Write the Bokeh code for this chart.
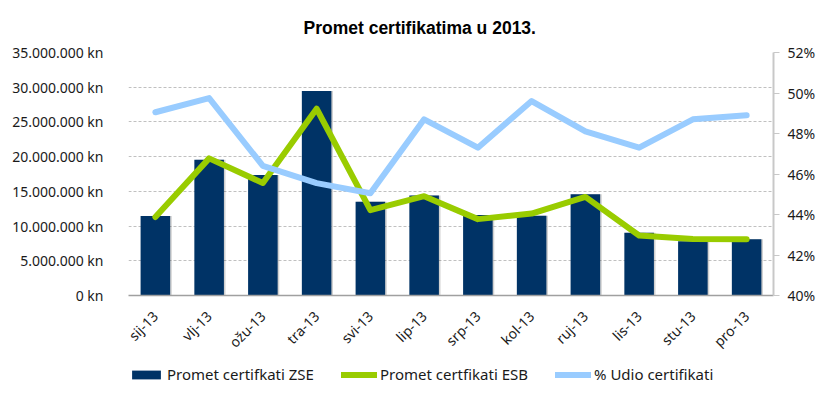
import math
from bokeh.plotting import figure
from bokeh.layouts import column
from bokeh.models import (FactorRange, Range1d, LinearAxis, FixedTicker,
                          NumeralTickFormatter, Legend, LegendItem, Title,
                          ColumnDataSource)
from bokeh.transform import dodge
from bokeh.embed import file_html
from bokeh.resources import INLINE

# ---- data ----
months = ["sij-13", "vlj-13", "ožu-13", "tra-13", "svi-13", "lip-13",
          "srp-13", "kol-13", "ruj-13", "lis-13", "stu-13", "pro-13"]
promet_zse = [11450000, 19550000, 17350000, 29450000, 13500000, 14400000,
              11600000, 11500000, 14600000, 9050000, 7800000, 8100000]
promet_esb = [11300000, 19750000, 16200000, 26900000, 12300000, 14300000,
              11000000, 11800000, 14200000, 8650000, 8150000, 8100000]
udio = [0.4905, 0.4975, 0.4640, 0.4555, 0.4505, 0.4870,
        0.4730, 0.4960, 0.4810, 0.4730, 0.4870, 0.4890]

left_ticks = [0, 5000000, 10000000, 15000000, 20000000, 25000000, 30000000, 35000000]
left_tick_labels = ["0 kn", "5.000.000 kn", "10.000.000 kn", "15.000.000 kn",
                    "20.000.000 kn", "25.000.000 kn", "30.000.000 kn", "35.000.000 kn"]
right_ticks = [0.40, 0.42, 0.44, 0.46, 0.48, 0.50, 0.52]

title_text = "Promet certifikatima  u 2013."
series_names = ["Promet certifkati ZSE", "Promet certfikati ESB", "% Udio certifikati"]

NAVY = "#003366"
GREEN = "#99CC00"
LBLUE = "#99CCFF"
GRID = "#C0C0C0"
FONT = "Noto Sans"
TXT = "#1a1a1a"

src = ColumnDataSource(dict(month=months, zse=promet_zse, esb=promet_esb, udio=udio))

p = figure(x_range=FactorRange(*months), y_range=Range1d(0, 35000000),
           width=818, height=361, output_backend="svg", toolbar_location=None,
           min_border_left=128, min_border_right=44, min_border_top=52,
           min_border_bottom=56)
p.outline_line_color = None
p.extra_y_ranges = {"pct": Range1d(0.40, 0.52)}

# subtle bar shadow
p.vbar(x=dodge("month", 0.03, range=p.x_range), top="zse", width=0.55, source=src,
       fill_color="#000000", fill_alpha=0.18, line_color=None)
bars = p.vbar(x="month", top="zse", width=0.55, source=src,
              fill_color=NAVY, line_color=None)
gline = p.line(x="month", y="esb", source=src, line_color=GREEN, line_width=6,
               line_join="round", line_cap="round")
bline = p.line(x="month", y="udio", source=src, y_range_name="pct",
               line_color=LBLUE, line_width=6, line_join="round", line_cap="round")

# left axis
ya = p.yaxis[0]
ya.ticker = FixedTicker(ticks=left_ticks)
ya.major_label_overrides = {int(t): l for t, l in zip(left_ticks, left_tick_labels)}
ya.axis_line_color = None
ya.major_tick_line_color = None
ya.minor_tick_line_color = None
ya.major_label_standoff = 19
ya.major_label_text_font = FONT
ya.major_label_text_font_size = "14px"
ya.major_label_text_color = TXT

# right axis
ra = LinearAxis(y_range_name="pct", ticker=FixedTicker(ticks=right_ticks),
                formatter=NumeralTickFormatter(format="0%"))
ra.axis_line_color = "#C8C8C8"
ra.axis_line_width = 2
ra.major_tick_line_color = "#C8C8C8"
ra.major_tick_out = 6
ra.major_tick_in = 0
ra.minor_tick_line_color = None
ra.major_label_standoff = 8
ra.major_label_text_font = FONT
ra.major_label_text_font_size = "14px"
ra.major_label_text_color = TXT
p.add_layout(ra, "right")

# x axis
xa = p.xaxis[0]
xa.axis_line_color = "#A0A0A0"
xa.axis_line_width = 1.5
xa.major_tick_line_color = None
xa.minor_tick_line_color = None
xa.major_label_orientation = math.pi / 4
xa.major_label_standoff = 12
xa.major_label_text_font = FONT
xa.major_label_text_font_size = "14px"
xa.major_label_text_color = TXT

# grid
p.xgrid.grid_line_color = None
p.ygrid.ticker = FixedTicker(ticks=left_ticks)
p.ygrid.grid_line_color = GRID
p.ygrid.grid_line_dash = "3 2"
p.ygrid.grid_line_width = 1

# title
p.title = Title(text=title_text, align="left", offset=175,
                text_font="Liberation Sans", text_font_size="17.5px",
                text_font_style="bold", text_color="#000000", standoff=29)

# legend strip below the chart (its frame is aligned with the chart frame)
lg = figure(width=818, height=24, output_backend="svg", toolbar_location=None,
            x_axis_type=None, y_axis_type=None, x_range=Range1d(0, 1),
            y_range=Range1d(0, 1), min_border=0)
lg.outline_line_color = None
lg.grid.visible = False
nan = float("nan")
sw_bar = lg.vbar(x=[nan], top=[nan], width=0.5, fill_color=NAVY, line_color=None)
sw_g = lg.line(x=[nan], y=[nan], line_color=GREEN, line_width=6, line_cap="round")
sw_b = lg.line(x=[nan], y=[nan], line_color=LBLUE, line_width=6, line_cap="round")
legend = Legend(items=[LegendItem(label=series_names[0], renderers=[sw_bar]),
                       LegendItem(label=series_names[1], renderers=[sw_g]),
                       LegendItem(label=series_names[2], renderers=[sw_b])],
                orientation="horizontal", location=(0, 1),
                glyph_width=36, glyph_height=11, label_standoff=3, spacing=27,
                padding=0, margin=0, border_line_color=None,
                background_fill_alpha=0,
                label_text_font=FONT, label_text_font_size="15px",
                label_text_color=TXT)
lg.add_layout(legend, "center")

layout = column(p, lg, spacing=0)
open("out.html", "w").write(file_html(layout, INLINE))
